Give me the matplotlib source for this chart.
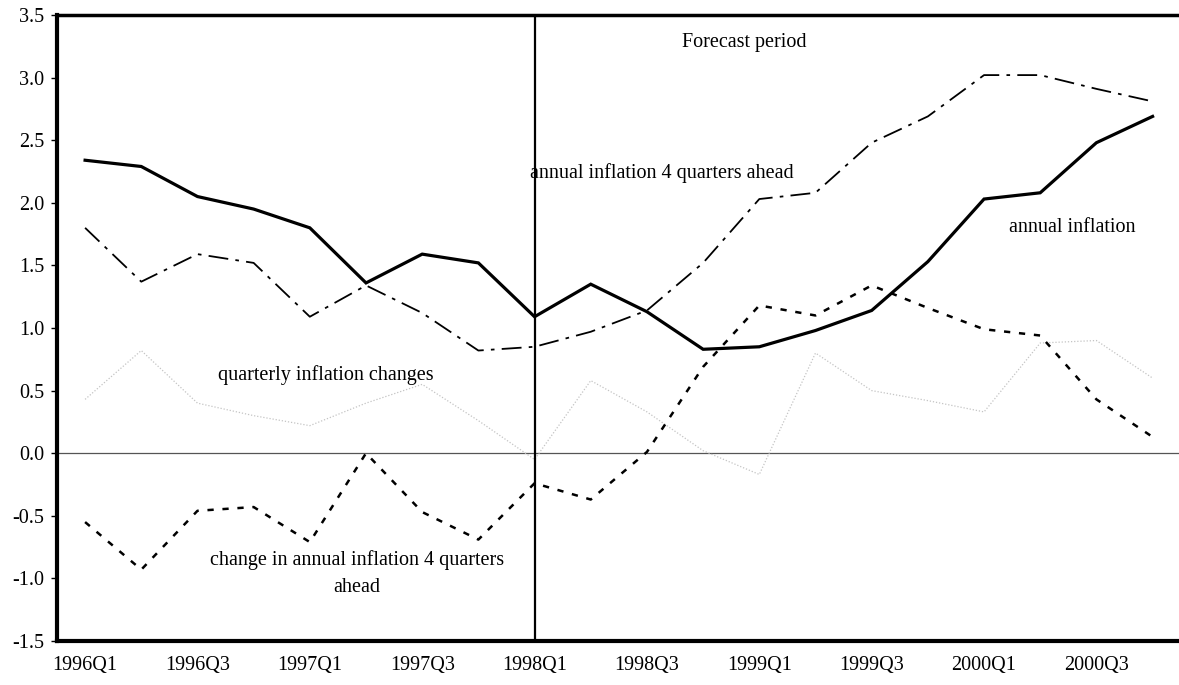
import matplotlib
matplotlib.use("Agg")
import matplotlib.pyplot as plt
import numpy as np

plt.rcParams['font.family'] = ['Liberation Serif', 'DejaVu Serif']
plt.rcParams['axes.unicode_minus'] = False

quarters = ['1996Q1', '1996Q2', '1996Q3', '1996Q4', '1997Q1', '1997Q2', '1997Q3', '1997Q4',
            '1998Q1', '1998Q2', '1998Q3', '1998Q4', '1999Q1', '1999Q2', '1999Q3', '1999Q4',
            '2000Q1', '2000Q2', '2000Q3', '2000Q4']
annual = [2.34, 2.29, 2.05, 1.95, 1.80, 1.36, 1.59, 1.52, 1.09, 1.35,
          1.13, 0.83, 0.85, 0.98, 1.14, 1.53, 2.03, 2.08, 2.48, 2.69]
ahead = [1.80, 1.37, 1.59, 1.52, 1.09, 1.34, 1.12, 0.82, 0.85, 0.97,
         1.14, 1.52, 2.03, 2.08, 2.48, 2.69, 3.02, 3.02, 2.91, 2.81]
change = [-0.55, -0.93, -0.46, -0.43, -0.71, 0.00, -0.47, -0.69, -0.24, -0.37,
          0.01, 0.69, 1.18, 1.10, 1.34, 1.16, 0.99, 0.94, 0.43, 0.13]
quarterly = [0.43, 0.82, 0.40, 0.30, 0.22, 0.40, 0.55, 0.26, -0.05, 0.58,
             0.33, 0.02, -0.17, 0.80, 0.50, 0.42, 0.33, 0.88, 0.90, 0.60]
yticks = [-1.5, -1.0, -0.5, 0.0, 0.5, 1.0, 1.5, 2.0, 2.5, 3.0, 3.5]
forecast_start = '1998Q1'

fig = plt.figure(figsize=(11.79, 6.85), dpi=100)
ax = fig.add_axes([57/1179, 44/685, 1 - 57/1179, (641-15)/685])

x = np.arange(len(quarters))
ax.axhline(0, color='#555555', lw=0.9, zorder=1)
ax.plot(x, quarterly, color='#c4c4c4', lw=0.9, ls=(0, (1, 1.5)), zorder=2)
ax.plot(x, annual, color='black', lw=2.3, solid_joinstyle='miter', zorder=4)
ax.plot(x, ahead, color='black', lw=1.3, dashes=(11, 4, 2, 4), zorder=3)
ax.plot(x, change, color='black', lw=1.8, dashes=(2.5, 3.5), zorder=3)
ax.axvline(quarters.index(forecast_start), color='black', lw=1.6, zorder=5)

ax.set_xlim(-0.5, 19.47)
ax.set_ylim(-1.5, 3.5)
ax.set_yticks(yticks)
ax.set_yticklabels([f'{v:.1f}' for v in yticks])
ax.set_xticks(x[::2])
ax.set_xticklabels(quarters[::2])
ax.tick_params(axis='y', length=4, width=1, pad=5, labelsize=14.5, direction='out')
ax.tick_params(axis='x', length=0, pad=11, labelsize=14.5)

for s in ['left', 'bottom']:
    ax.spines[s].set_linewidth(3)
ax.spines['top'].set_linewidth(2.5)
ax.spines['right'].set_visible(False)

fs = 14.5
def T(px, py, s, **kw):
    xd, yd = ax.transData.inverted().transform(fig.transFigure.transform((px/1179, 1 - py/685)))
    ax.text(xd, yd, s, ha='center', va='center', fontsize=fs, **kw)

fig.canvas.draw()
T(744, 43, 'Forecast period')
T(662, 173, 'annual inflation 4 quarters ahead')
T(1072, 228, 'annual inflation')
T(326, 375, 'quarterly inflation changes')
T(357, 560, 'change in annual inflation 4 quarters')
T(357, 588, 'ahead')

fig.savefig('out.png', dpi=100)
